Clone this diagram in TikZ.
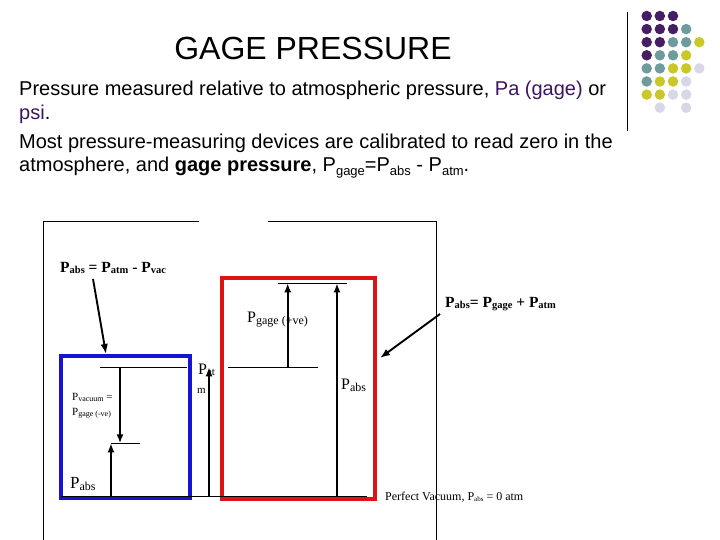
\documentclass[tikz,border=0pt]{standalone}
\usepackage{fontspec}
\setmainfont{Liberation Serif}
\newfontfamily\arial{Liberation Sans}
\usetikzlibrary{arrows.meta}
\newcommand\mysub[3]{\raisebox{-#2}{\fontsize{#1}{#1}\selectfont #3}}
\definecolor{purp}{RGB}{60,20,95}
\definecolor{dpurp}{RGB}{70,30,100}
\definecolor{dteal}{RGB}{110,155,155}
\definecolor{dyel}{RGB}{200,200,40}
\definecolor{dlav}{RGB}{215,215,232}
\definecolor{bbox}{RGB}{20,20,210}
\definecolor{rbox}{RGB}{220,20,20}
\begin{document}
\begin{tikzpicture}[x=1pt,y=-1pt,
  lbl/.style={inner sep=0pt, anchor=base west},
  lvl/.style={line width=1.2pt},
  frm/.style={line width=1pt},
  arr/.style={line width=1.9pt, -{Latex[length=9pt,width=7pt]}},
  larr/.style={line width=1.9pt, -{Latex[length=10pt,width=7.5pt]}},
  dot/.style={circle, inner sep=0pt, minimum size=10.5pt}]
\useasboundingbox (0,0) rectangle (720,540);
% decoration dots
\draw[line width=1pt] (627,12) -- (627,131);
\foreach \c/\r/\col in {0/0/dpurp,1/0/dpurp,2/0/dpurp,
  0/1/dpurp,1/1/dpurp,2/1/dpurp,3/1/dteal,
  0/2/dpurp,1/2/dpurp,2/2/dteal,3/2/dteal,4/2/dyel,
  0/3/dpurp,1/3/dteal,2/3/dteal,3/3/dyel,
  0/4/dteal,1/4/dteal,2/4/dyel,3/4/dyel,4/4/dlav,
  0/5/dteal,1/5/dyel,2/5/dyel,3/5/dlav,
  0/6/dyel,1/6/dyel,2/6/dlav,3/6/dlav,
  1/7/dlav,3/7/dlav}
  \node[dot, fill=\col] (d\c\r) at (646.7+13.15*\c, 16+13.1*\r) {};
% title and text
\node[inner sep=0pt, anchor=base, font=\arial\fontsize{32}{38}\selectfont] (title) at (313,60) {GAGE PRESSURE};
\node[lbl, font=\arial\fontsize{20}{24}\selectfont] (t1) at (19,96) {Pressure measured relative to atmospheric pressure, {\color{purp}Pa (gage)} or};
\node[lbl, font=\arial\fontsize{20}{24}\selectfont] (t2) at (19,119.5) {{\color{purp}psi}.};
\node[lbl, font=\arial\fontsize{20}{24}\selectfont] (t3) at (19,149) {Most pressure-measuring devices are calibrated to read zero in the};
\node[lbl, font=\arial\fontsize{20}{24}\selectfont] (t4) at (19,172) {atmosphere, and \textbf{gage pressure}, P\mysub{13}{4pt}{gage}=P\mysub{13}{4pt}{abs} - P\mysub{13}{4pt}{atm}.};
% frame
\draw[frm] (199,222) -- (43,222) -- (43,541);
\draw[frm] (268,222) -- (436,222) -- (436,541);
% boxes
\draw[bbox, line width=4pt] (61.3,355.7) rectangle (190,497.7);
\draw[rbox, line width=4pt] (222.3,278.3) rectangle (375,499.3);
% level coordinates
\coordinate (z1) at (61,496.8);
\coordinate (z2) at (367,496.8);
\coordinate (a1) at (100,367.3);
\coordinate (a2) at (187,367.3);
\coordinate (a3) at (228,367.3);
\coordinate (a4) at (318,367.3);
\coordinate (g1) at (277.7,283.3);
\coordinate (g2) at (346.7,283.3);
\coordinate (v1) at (111,443.3);
\coordinate (v2) at (140,443.3);
\draw[lvl] (z1) -- (z2);
\draw[lvl] (a1) -- (a2);
\draw[lvl] (a3) -- (a4);
\draw[lvl] (g1) -- (g2);
\draw[lvl] (v1) -- (v2);
% vertical arrows
\coordinate (pgb) at (287.7,367.3);
\coordinate (pgt) at (287.7,283.3);
\coordinate (prb) at (337,496.8);
\coordinate (prt) at (337,283.3);
\coordinate (pab) at (209,496.8);
\coordinate (pat) at (209,367.3);
\coordinate (pvt) at (120,367.3);
\coordinate (pvb) at (120,443.3);
\coordinate (pbb) at (111,496.8);
\coordinate (pbt) at (111,443.3);
% labels
\node[lbl, font=\fontsize{15.5}{17}\selectfont\bfseries] (lvac) at (60,272) {P\mysub{10.5}{1.5pt}{abs} = P\mysub{10.5}{1.5pt}{atm} - P\mysub{10.5}{1.5pt}{vac}};
\node[lbl, font=\fontsize{15.5}{17}\selectfont\bfseries] (lgag) at (445,307) {P\mysub{10.5}{1.5pt}{abs}= P\mysub{10.5}{1.5pt}{gage} + P\mysub{10.5}{1.5pt}{atm}};
\node[lbl, font=\fontsize{16}{18}\selectfont] (lpg) at (247,322) {P\mysub{12}{2pt}{gage (+ve)}};
\node[lbl, font=\fontsize{16}{18}\selectfont] (lpr) at (341,389) {P\mysub{12}{2pt}{abs}};
\node[lbl, font=\fontsize{17}{19}\selectfont] (lpb) at (70,488) {P\mysub{12}{2pt}{abs}};
\node[lbl, font=\fontsize{16}{18}\selectfont] (lpa) at (198,374) {P\mysub{11}{1pt}{at}};
\node[lbl, font=\fontsize{11}{13}\selectfont] (lpm) at (197,393) {m};
\node[lbl, font=\fontsize{11}{13}\selectfont] (lv1) at (72,400) {P\mysub{8}{1pt}{vacuum} =};
\node[lbl, font=\fontsize{11}{13}\selectfont] (lv2) at (72,415) {P\mysub{8}{1pt}{gage (-ve)}};
\node[lbl, font=\fontsize{12}{14}\selectfont] (lpv) at (385,500) {Perfect Vacuum, P\mysub{7}{1pt}{abs} = 0 atm};
% arrows
\draw[arr] (pgb) -- (pgt);
\draw[arr] (prb) -- (prt);
\draw[arr] (pab) -- (pat);
\draw[arr] (pvt) -- (pvb);
\draw[arr] (pbb) -- (pbt);
\coordinate (l1s) at (93,279);
\coordinate (l1e) at (106,354);
\coordinate (l2s) at (440,314);
\coordinate (l2e) at (380,358);
\draw[larr] (l1s) -- (l1e);
\draw[larr] (l2s) -- (l2e);
\end{tikzpicture}
\end{document}
